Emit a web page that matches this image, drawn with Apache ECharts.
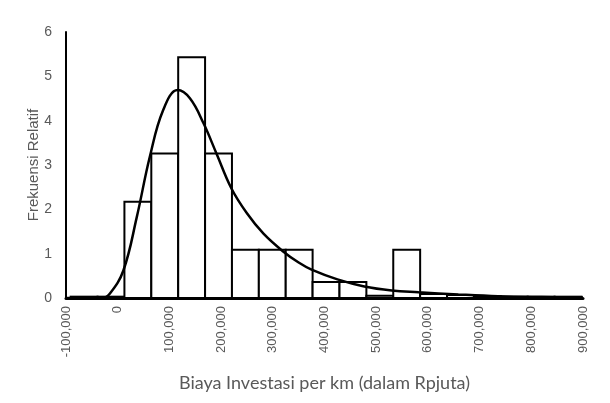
<!DOCTYPE html>
<html>
<head>
<meta charset="utf-8">
<script src="https://cdn.jsdelivr.net/npm/echarts@6/dist/echarts.min.js"></script>
<style>
  html, body { margin: 0; padding: 0; background: #fff; }
  #chart { width: 610px; height: 403px; }
</style>
</head>
<body>
<div id="chart"></div>
<script>
// histogram bins (left edge) and relative frequency
const binWidth = 52000;
const binLefts = [-91000, -39000, 13000, 65000, 117000, 169000, 221000, 273000, 325000, 377000,
  429000, 481000, 533000, 585000, 637000, 689000, 741000, 793000, 845000];
const binHeights = [0.03, 0.03, 2.17, 3.26, 5.43, 3.26, 1.09, 1.09, 1.09, 0.36,
  0.36, 0.05, 1.09, 0.09, 0.07, 0.04, 0.03, 0.03, 0.03];

// fitted curve
const curveX = [-100000, -30000, -15000, 11000, 37000, 62000, 88000, 116000, 140000, 166000,
  191000, 220000, 250000, 282000, 320000, 350000, 375000, 425000, 477000, 530000,
  582000, 659000, 736000, 820000, 900000];
const curveY = [0.0, 0.0, 0.1, 0.62, 1.83, 3.18, 4.24, 4.69, 4.50, 3.94,
  3.26, 2.47, 1.91, 1.45, 1.05, 0.80, 0.64, 0.42, 0.26, 0.17,
  0.13, 0.08, 0.04, 0.02, 0.01];

const textColor = '#595959';
const chart = echarts.init(document.getElementById('chart'));

chart.setOption({
  animation: false,
  grid: { left: 66, right: 27, top: 32, bottom: 105 },
  xAxis: {
    type: 'value',
    min: -100000,
    max: 900000,
    interval: 100000,
    name: 'Biaya Investasi per km (dalam Rpjuta)',
    nameLocation: 'middle',
    nameGap: 76,
    nameTextStyle: { color: textColor, fontSize: 18, fontFamily: 'Lato' },
    splitLine: { show: false },
    axisTick: { show: false },
    axisLine: { onZero: false, lineStyle: { color: '#000', width: 3 } },
    axisLabel: {
      rotate: 90,
      color: textColor,
      fontSize: 13,
      fontFamily: 'Liberation Sans',
      margin: 8,
      formatter: v => v.toLocaleString('en-US')
    }
  },
  yAxis: {
    type: 'value',
    min: 0,
    max: 6,
    interval: 1,
    name: 'Frekuensi Relatif',
    nameLocation: 'middle',
    nameGap: 25,
    nameMoveOverlap: false,
    nameTextStyle: { color: textColor, fontSize: 15, fontFamily: 'Liberation Sans' },
    splitLine: { show: false },
    axisTick: { show: false },
    axisLine: { show: true, onZero: false, lineStyle: { color: '#000', width: 2 } },
    axisLabel: { color: textColor, fontSize: 14, fontFamily: 'Liberation Sans', margin: 14 }
  },
  series: [{
    type: 'custom',
    renderItem: (params, api) => {
      const x0 = api.value(0);
      const h = api.value(1);
      const p0 = api.coord([x0, h]);
      const p1 = api.coord([x0 + binWidth, 0]);
      return {
        type: 'rect',
        shape: { x: p0[0], y: p0[1], width: p1[0] - p0[0], height: p1[1] - p0[1] },
        style: { fill: '#fff', stroke: '#000', lineWidth: 2 }
      };
    },
    encode: { x: 0, y: 1 },
    data: binLefts.map((x, i) => [x, binHeights[i]]),
    z: 2
  }, {
    type: 'line',
    smooth: 0.4,
    showSymbol: false,
    lineStyle: { color: '#000', width: 2.5 },
    data: curveX.map((x, i) => [x, curveY[i]]),
    z: 3
  }]
});
</script>
</body>
</html>
